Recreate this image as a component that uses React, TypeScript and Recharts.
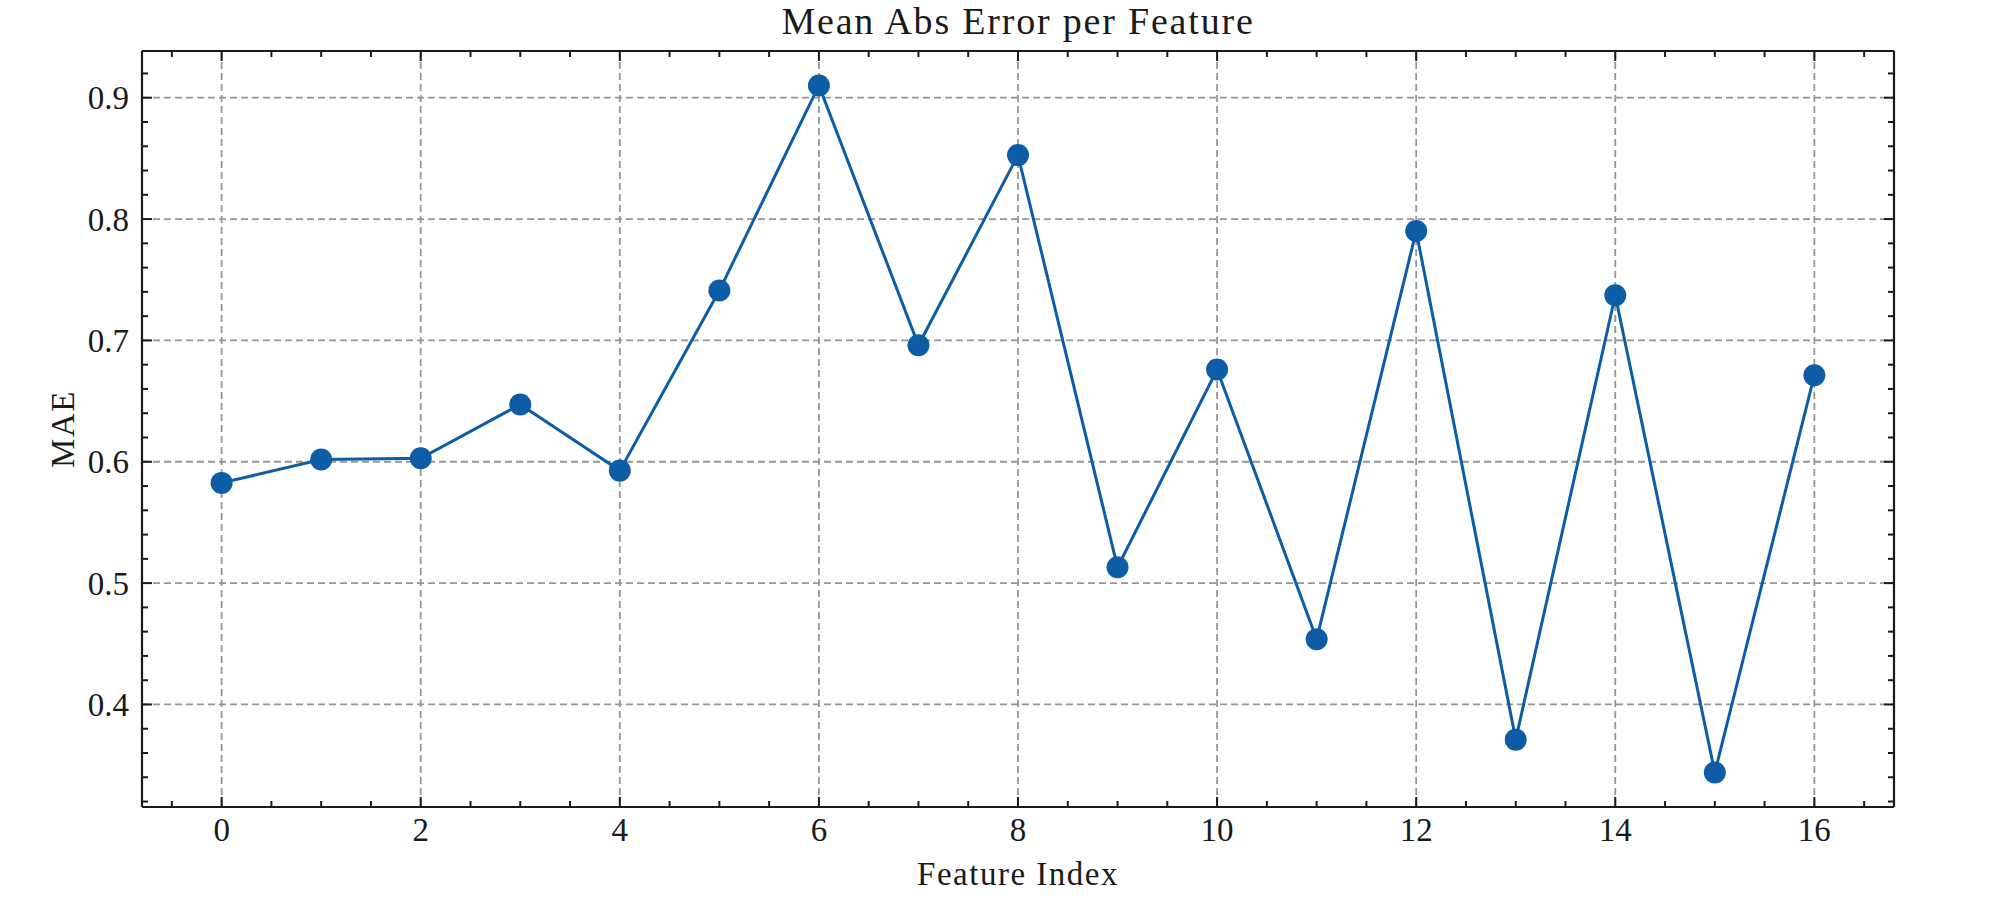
import React from "react";
import {
  CartesianGrid,
  Label,
  Line,
  LineChart,
  XAxis,
  YAxis,
} from "recharts";

const featureIndex = [0, 1, 2, 3, 4, 5, 6, 7, 8, 9, 10, 11, 12, 13, 14, 15, 16];
const maeValues = [
  0.5826, 0.6018, 0.6029, 0.6472, 0.5927, 0.7411, 0.9101, 0.696, 0.8527,
  0.513, 0.676, 0.4538, 0.7901, 0.371, 0.7372, 0.3439, 0.6713,
];

const xMajorTicks = [0, 2, 4, 6, 8, 10, 12, 14, 16];
const xMinorTicks = [
  -0.5, 0.5, 1, 1.5, 2.5, 3, 3.5, 4.5, 5, 5.5, 6.5, 7, 7.5, 8.5, 9, 9.5, 10.5,
  11, 11.5, 12.5, 13, 13.5, 14.5, 15, 15.5, 16.5,
];
const yMajorTicks = [0.4, 0.5, 0.6, 0.7, 0.8, 0.9];
const yMinorTicks = [
  0.32, 0.34, 0.36, 0.38, 0.42, 0.44, 0.46, 0.48, 0.52, 0.54, 0.56, 0.58, 0.62,
  0.64, 0.66, 0.68, 0.72, 0.74, 0.76, 0.78, 0.82, 0.84, 0.86, 0.88, 0.92,
];

const xDomain: [number, number] = [-0.8, 16.8];
const yDomain: [number, number] = [0.3155, 0.9385];

const data = featureIndex.map((f, i) => ({ feature: f, mae: maeValues[i] }));

const FONT = '"Liberation Serif", "Times New Roman", serif';
const INK = "#1a1a1a";
const LINE = "#0C5DA5";

const tickStyle = { fontFamily: FONT, fontSize: 33, fill: INK };
const axisLine = { stroke: INK, strokeWidth: 2.2 };
const tickLine = { stroke: INK, strokeWidth: 2 };

// tick must be truthy or recharts drops the tick marks too
const noLabel = () => <g />;

// axis that only draws inward tick marks (matplotlib "in" style)
function tickX(id: string, side: "top" | "bottom", ticks: number[], size: number, withLine: boolean) {
  return (
    <XAxis
      key={id}
      xAxisId={id}
      orientation={side}
      mirror
      dataKey="feature"
      type="number"
      domain={xDomain}
      ticks={ticks}
      interval={0}
      allowDataOverflow
      height={1}
      tickSize={size}
      tick={noLabel}
      axisLine={withLine ? axisLine : false}
      tickLine={tickLine}
    />
  );
}

function tickY(id: string, side: "left" | "right", ticks: number[], size: number, withLine: boolean) {
  return (
    <YAxis
      key={id}
      yAxisId={id}
      orientation={side}
      mirror
      type="number"
      domain={yDomain}
      ticks={ticks}
      interval={0}
      allowDataOverflow
      width={1}
      tickSize={size}
      tick={noLabel}
      axisLine={withLine ? axisLine : false}
      tickLine={tickLine}
    />
  );
}

export default function App() {
  return (
    <div style={{ position: "absolute", left: 0, top: 0, width: 2005, height: 913, background: "#fff" }}>
      <svg
        width={2005}
        height={50}
        style={{ position: "absolute", left: 0, top: 0 }}
      >
        <text
          x={1018}
          y={34}
          textAnchor="middle"
          fontFamily={FONT}
          fontSize={38}
          letterSpacing={1.8}
          fill={INK}
        >
          Mean Abs Error per Feature
        </text>
      </svg>
      <LineChart
        width={2005}
        height={913}
        data={data}
        margin={{ top: 51, right: 111, bottom: 105, left: 141 }}
      >
        <CartesianGrid
          stroke="#969696"
          strokeWidth={1.8}
          strokeDasharray="7 4"
        />
        {/* labelled axes */}
        <XAxis
          dataKey="feature"
          type="number"
          domain={xDomain}
          ticks={xMajorTicks}
          interval={0}
          allowDataOverflow
          height={1}
          tickSize={0}
          tickMargin={11}
          tick={tickStyle}
          axisLine={axisLine}
          tickLine={false}
        >
          <Label
            content={({ viewBox }: any) => (
              <text
                x={viewBox.x + viewBox.width / 2}
                y={viewBox.y + 78}
                textAnchor="middle"
                fontFamily={FONT}
                fontSize={33}
                letterSpacing={1.5}
                fill={INK}
              >
                Feature Index
              </text>
            )}
          />
        </XAxis>
        <YAxis
          type="number"
          domain={yDomain}
          ticks={yMajorTicks}
          interval={0}
          allowDataOverflow
          width={1}
          tickSize={0}
          tickMargin={13}
          tick={tickStyle}
          tickFormatter={(v: number) => v.toFixed(1)}
          axisLine={axisLine}
          tickLine={false}
        >
          <Label
            content={({ viewBox }: any) => {
              const cx = 63;
              const cy = viewBox.y + viewBox.height / 2;
              return (
                <text
                  x={cx}
                  y={cy}
                  transform={`rotate(-90 ${cx} ${cy})`}
                  textAnchor="middle"
                  dominantBaseline="central"
                  fontFamily={FONT}
                  fontSize={33}
                  letterSpacing={1.5}
                  fill={INK}
                >
                  MAE
                </text>
              );
            }}
          />
        </YAxis>
        {/* inward tick marks on all four sides */}
        {tickX("bottomMajor", "bottom", xMajorTicks, 10, false)}
        {tickX("bottomMinor", "bottom", xMinorTicks, 5, false)}
        {tickX("topMajor", "top", xMajorTicks, 10, true)}
        {tickX("topMinor", "top", xMinorTicks, 5, false)}
        {tickY("leftMajor", "left", yMajorTicks, 10, false)}
        {tickY("leftMinor", "left", yMinorTicks, 5, false)}
        {tickY("rightMajor", "right", yMajorTicks, 10, true)}
        {tickY("rightMinor", "right", yMinorTicks, 5, false)}
        <Line
          dataKey="mae"
          type="linear"
          stroke={LINE}
          strokeWidth={3}
          dot={{ r: 11, fill: LINE, stroke: "none" }}
          isAnimationActive={false}
        />
      </LineChart>
    </div>
  );
}
